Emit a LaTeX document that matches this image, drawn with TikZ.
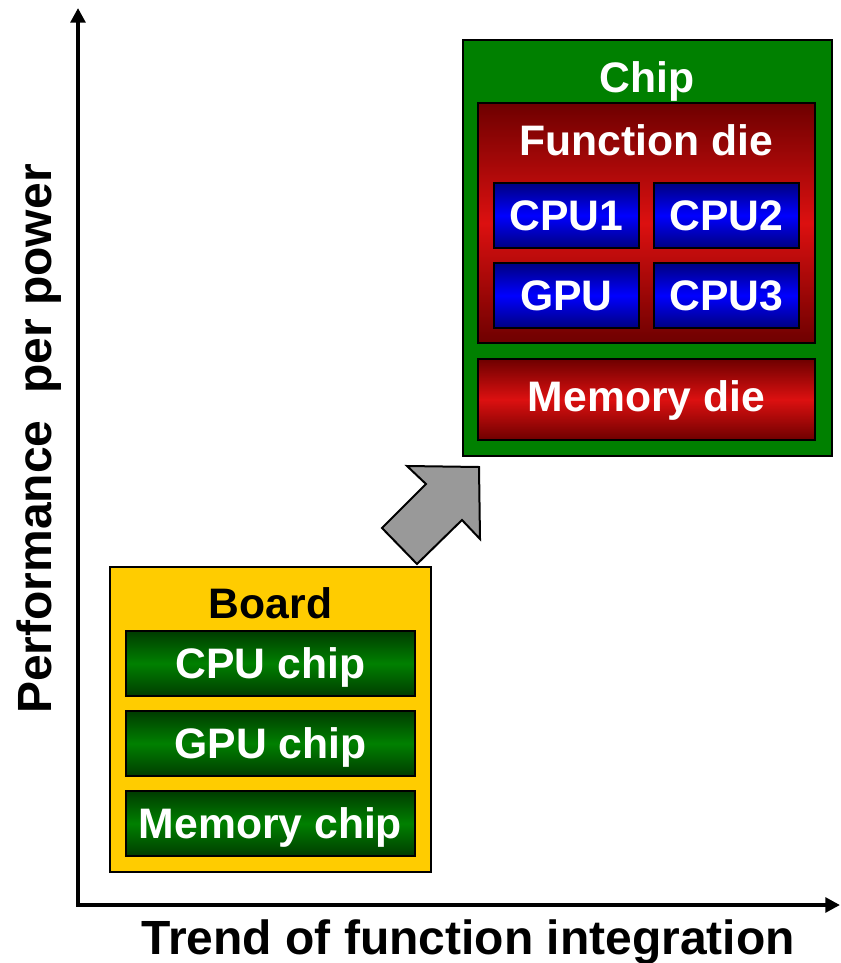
\documentclass[tikz,border=0pt]{standalone}
\usepackage{fontspec}
\setmainfont{Liberation Sans}
\definecolor{chipgreen}{RGB}{0,128,0}
\definecolor{darkgreen}{RGB}{0,60,0}
\definecolor{darkred}{RGB}{110,0,0}
\definecolor{brightred}{RGB}{220,16,16}
\definecolor{navy}{RGB}{0,0,128}
\definecolor{brightblue}{RGB}{0,0,255}
\definecolor{boardyellow}{RGB}{255,204,0}
\definecolor{arrowgray}{RGB}{153,153,153}
\usetikzlibrary{arrows.meta}
\tikzset{
  px/.style={x=0.75pt,y=-0.75pt},
  lbl/.style={font=\fontsize{32}{38}\selectfont\bfseries, inner sep=0pt, text=white, text height=22.9pt, text depth=0pt},
  axislbl/.style={font=\fontsize{36}{42}\selectfont\bfseries, inner sep=0pt, text=black, text height=25.8pt, text depth=0pt},
  boxbase/.style={draw=black, line width=1.5pt, rectangle, inner sep=0pt},
  reddie/.style={boxbase, top color=darkred, bottom color=darkred, middle color=brightred},
  bluecore/.style={boxbase, top color=navy, bottom color=navy, middle color=brightblue, lbl},
  greenchip/.style={boxbase, top color=darkgreen, bottom color=darkgreen, middle color=chipgreen, lbl},
  axis/.style={line width=3pt, -{Triangle[length=11pt,width=11pt]}},
}
\begin{document}
\begin{tikzpicture}[px]
\useasboundingbox (0,0) rectangle (840,963);
% axes
\coordinate (origin) at (78,905);
\coordinate (ytip) at (78,8);
\coordinate (xtip) at (840,905);
\draw[axis] (origin) -- (ytip);
\draw[axis] ([xshift=-1.5pt]origin) -- (xtip);
\node[axislbl] (xlabel) at (468,937.5) {Trend of function integration};
\node[axislbl, rotate=90] (ylabel) at (34.5,439) {Performance\ \ per power};
% chip
\node[boxbase, fill=chipgreen, minimum width=369*0.75pt, minimum height=416*0.75pt] (chip) at (647.5,248) {};
\node[lbl] (chiplbl) at (647,77) {Chip};
\node[reddie, minimum width=337*0.75pt, minimum height=240*0.75pt] (fdie) at (646.5,223) {};
\node[lbl] (fdielbl) at (646.5,140.5) {Function die};
\node[bluecore, minimum width=145*0.75pt, minimum height=65*0.75pt] (cpu1) at (566.5,215.5) {CPU1};
\node[bluecore, minimum width=145*0.75pt, minimum height=65*0.75pt] (cpu2) at (726.5,215.5) {CPU2};
\node[bluecore, minimum width=145*0.75pt, minimum height=65*0.75pt] (gpu) at (566.5,295.5) {GPU};
\node[bluecore, minimum width=145*0.75pt, minimum height=65*0.75pt] (cpu3) at (726.5,295.5) {CPU3};
\node[reddie, lbl, minimum width=337*0.75pt, minimum height=81*0.75pt] (mdie) at (646.5,399.5) {};
\node[lbl] (mdielbl) at (646.5,396) {Memory die};
% board
\node[boxbase, fill=boardyellow, minimum width=321*0.75pt, minimum height=305*0.75pt] (board) at (270.5,719.5) {};
\node[lbl, text=black] (boardlbl) at (270.5,603) {Board};
\node[greenchip, minimum width=289*0.75pt, minimum height=65*0.75pt] (cpuchip) at (270.5,663.5) {CPU chip};
\node[greenchip, minimum width=289*0.75pt, minimum height=65*0.75pt] (gpuchip) at (270.5,743.5) {GPU chip};
\node[greenchip, minimum width=289*0.75pt, minimum height=65*0.75pt] (memchip) at (270.5,823.5) {Memory chip};
% block arrow
\draw[fill=arrowgray, line width=1.5pt, line join=miter]
  (479,467) -- (407,466) -- (426,484) -- (382,528) -- (417,564) -- (462,520) -- (480,539) -- cycle;
\end{tikzpicture}
\end{document}
